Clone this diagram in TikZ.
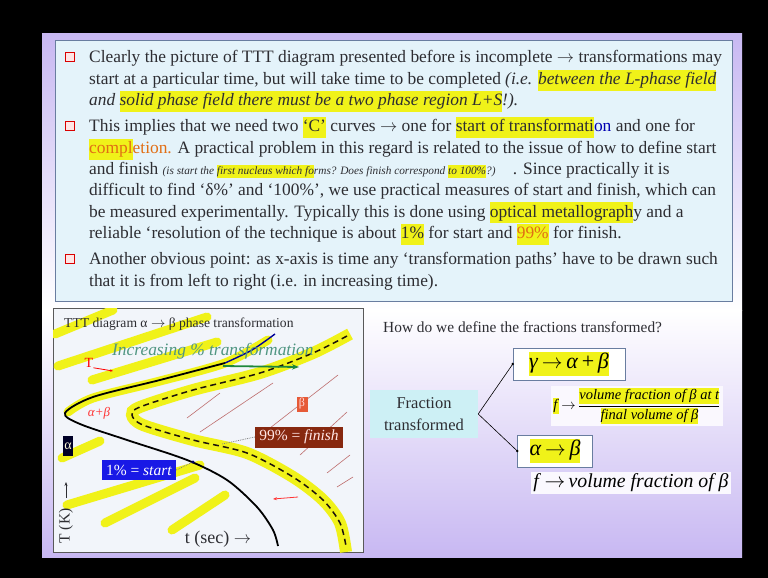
\documentclass[tikz,border=0pt]{standalone}
\usepackage{fontspec}
\setmainfont{Liberation Serif}
\usepackage{amsmath}
\usetikzlibrary{arrows.meta, positioning, calc}
\definecolor{lav}{RGB}{200,184,242}
\definecolor{panel}{RGB}{228,243,250}
\definecolor{panelline}{RGB}{105,125,160}
\definecolor{diagfill}{RGB}{242,245,250}
\definecolor{hlyel}{RGB}{240,242,25}
\definecolor{txt}{RGB}{45,45,50}
\definecolor{tealtxt}{RGB}{80,150,130}
\definecolor{brick}{RGB}{135,40,15}
\definecolor{blu}{RGB}{25,25,230}
\definecolor{hatch}{RGB}{190,110,110}
\definecolor{orng}{RGB}{225,110,20}
\definecolor{betafill}{RGB}{230,90,55}
\definecolor{fracbox}{RGB}{205,240,245}
\definecolor{grn}{RGB}{30,135,60}
\newcommand{\hlt}[1]{{\setlength{\fboxsep}{0pt}\colorbox{hlyel}{\strut #1}}}

\begin{document}
\begin{tikzpicture}[x=1pt, y=-1pt,
  bodyline/.style={anchor=base west, inner sep=0pt, text=txt, font=\fontsize{17.4}{21}\selectfont},
  bulletbox/.style={draw=red!85!black, fill=red!10, line width=1.4pt, minimum size=9.5pt, inner sep=0pt},
  hlstroke/.style={draw=hlyel, line width=9pt, line cap=round},
  hatchline/.style={draw=hatch, line width=0.6pt},
  tag/.style={inner sep=1pt, font=\fontsize{14}{16}\selectfont},
  eqbox/.style={draw=panelline, fill=white, inner sep=2pt, font=\fontsize{22}{24}\selectfont},
  formbox/.style={fill=white!90!lav, inner sep=2pt},
  conn/.style={draw=black, line width=0.6pt},
  dotline/.style={draw=gray, densely dotted, line width=0.8pt}
]
\useasboundingbox (0,0) rectangle (768,578);
\fill[black] (0,0) rectangle (768,578);
% slide background
\shade[top color=lav, bottom color=white] (42,34) rectangle (742,310);
\shade[top color=white, bottom color=lav] (42,310) rectangle (742,557);

% upper text panel
\draw[panelline, fill=panel, line width=0.8pt] (55,40) rectangle (732,301);
\node[bulletbox] (b1) at (70,57) {};
\node[bulletbox] (b2) at (70,126) {};
\node[bulletbox] (b3) at (70,259) {};
\node[bodyline] (l1) at (89,63) {Clearly the picture of TTT diagram presented before is incomplete $\rightarrow$ transformations may};
\node[bodyline] (l2) at (89,84.3) {start at a particular time, but will take time to be completed \textit{(i.e. \hlt{between the L-phase field}}};
\node[bodyline] (l3) at (89,105.6) {\textit{and \hlt{solid phase field there must be a two phase region L+S}!).}};
\node[bodyline] (l4) at (89,131.9) {This implies that we need two \hlt{‘C’} curves $\rightarrow$ one for \hlt{start of transformati}\textcolor{blue!70!black}{on} and one for};
\node[bodyline] (l5) at (89,153.2) {\textcolor{orng}{\hlt{compl}etion.} A practical problem in this regard is related to the issue of how to define start};
\node[bodyline] (l6) at (89,174.5) {and finish {\fontsize{11.3}{13}\selectfont\itshape (is start the \hlt{first nucleus which fo}rms? Does finish correspond \hlt{to 100\%}?)}\quad . Since practically it is};
\node[bodyline] (l7) at (89,195.8) {difficult to find ‘δ\%’ and ‘100\%’, we use practical measures of start and finish, which can};
\node[bodyline] (l8) at (89,217.1) {be measured experimentally. Typically this is done using \hlt{optical metallograph}y and a};
\node[bodyline] (l9) at (89,238.4) {reliable ‘resolution of the technique is about \hlt{1\%} for start and \hlt{\textcolor{orng}{99\%}} for finish.};
\node[bodyline] (l10) at (89,264.7) {Another obvious point: as x-axis is time any ‘transformation paths’ have to be drawn such};
\node[bodyline] (l11) at (89,286) {that it is from left to right (i.e. in increasing time).};

% TTT diagram
\draw[gray!70!black, fill=diagfill, line width=0.8pt] (53,308) rectangle (363,552);
\begin{scope}
  \clip (53,308) rectangle (363,552);
  \draw[hlstroke] (55,334) -- (113,310);
  \draw[hlstroke] (58,366) -- (207,317);
  \draw[hlstroke] (92,380) -- (217,342);
  \draw[hlstroke] (62,458) -- (100,441);
  \draw[hlstroke] (67,505) -- (200,465);
  \draw[hlstroke] (105,523) -- (195,478);
  \draw[hlstroke] (172,530) -- (225,495);
  \draw[hlstroke] plot[smooth] coordinates {(68,412) (93,398) (160,381) (225,363) (268,340)};
  \draw[hlstroke, line width=12pt, line cap=butt] plot[smooth] coordinates {(350,334) (313,353) (260,373) (193,390) (140,407) (132,415) (143,425) (193,440) (247,453) (293,477) (323,500) (340,523) (346,552)};
\end{scope}
% hatching in the beta field
\draw[hatchline] (187,418) -- (220,393);
\draw[hatchline] (200,432) -- (273,383);
\draw[hatchline] (270,428) -- (338,375);
\draw[hatchline] (300,455) -- (347,412);
\draw[hatchline] (327,473) -- (350,455);
\draw[hatchline] (337,487) -- (353,477);
% start and finish curves
\draw[black, line width=1.8pt] plot[smooth] coordinates {(225,363) (160,380) (93,397) (65,413) (80,424) (127,440) (187,460) (227,480) (257,507) (273,530) (278,546)};
\draw[blue!60!black, line width=1.4pt] plot[smooth] coordinates {(225,363) (252,350) (275,334)};
\draw[black!85!brown, line width=1.5pt, dash pattern=on 6pt off 4pt] plot[smooth] coordinates {(347,336) (313,353) (260,373) (193,390) (140,407) (132,415) (143,425) (193,440) (247,453) (293,477) (323,500) (340,523) (346,546)};

\node[anchor=west, inner sep=0pt, text=txt, font=\fontsize{13.6}{15}\selectfont] (title) at (64,324) {TTT diagram α $\rightarrow$ β phase transformation};
\node[anchor=west, inner sep=0pt, text=tealtxt, font=\fontsize{17.4}{19}\selectfont\itshape] (incr) at (112,351) {Increasing \% transformation};
\coordinate (ga) at (223,366);
\coordinate (gb) at (299,367);
\draw[grn, line width=1.8pt, -{Stealth[length=7pt]}] (ga) -- (gb);
\node[text=red, inner sep=0pt, font=\fontsize{14}{16}\selectfont] (te) at (89,363) {T};
\coordinate (tend) at (113,371);
\draw[red, line width=0.8pt, -{Stealth[length=3pt]}] (te.south east) -- (tend);
\node[text=red!80, inner sep=0pt, font=\fontsize{13}{15}\selectfont\itshape] (abl) at (99,413) {α+β};
\node[tag, fill=betafill, text=red!15, minimum width=11pt, minimum height=15pt, font=\fontsize{12}{14}\selectfont] (bet) at (302,404) {β};
\node[tag, fill=brick, text=white!90!red, minimum width=88pt, minimum height=21pt, font=\fontsize{15.5}{17}\selectfont] (fin) at (299,437) {99\% = \textit{finish}};
\node[tag, fill=blu, text=white, minimum width=74pt, minimum height=20pt, font=\fontsize{15.5}{17}\selectfont] (sta) at (139,470) {1\% = \textit{start}};
\node[tag, fill=black!85!blue, text=white!85!yellow, minimum width=10pt, minimum height=20pt] (alf) at (68,446) {α};
\coordinate (finpt) at (222,444);
\coordinate (stapt) at (193,462);
\draw[dotline] (fin.west) -- (finpt);
\draw[dotline] (sta.east) -- (stapt);
\fill[blue!40!black] (stapt) circle (1.6pt);
\coordinate (rm1) at (273,499);
\coordinate (rm2) at (298,497);
\draw[red!80, line width=0.8pt, -{Stealth[length=4pt]}] (rm2) -- (rm1);
\node[rotate=90, inner sep=0pt, text=txt, font=\fontsize{15.5}{17}\selectfont] (tk) at (66,526) {T (K)};
\coordinate (ya) at (66,498);
\coordinate (yb) at (66,482);
\draw[txt, line width=0.8pt, -{Stealth[length=4pt]}] (ya) -- (yb);
\node[inner sep=0pt, text=txt, font=\fontsize{18}{20}\selectfont] (tsec) at (218,539) {t (sec) $\rightarrow$};

% fractions transformed
\node[anchor=west, inner sep=0pt, text=txt, font=\fontsize{15.4}{17}\selectfont] (q) at (383,327) {How do we define the fractions transformed?};
\node[fill=fracbox, minimum width=108pt, minimum height=48pt, align=center, text=txt, font=\fontsize{16.5}{22}\selectfont] (frac) at (424,414) {Fraction\\transformed};
\node[eqbox, minimum width=112pt, minimum height=32pt] (gab) at (569,364) {\hlt{\textit{γ}\,$\rightarrow$\,\textit{α}\,+\,\textit{β}}};
\node[formbox, font=\fontsize{14.5}{16}\selectfont] (fdef) at (637,406) {\hlt{\textit{f}}\,$\rightarrow$\,$\dfrac{\text{\hlt{\textit{volume fraction of β at t}}}}{\text{\hlt{\textit{final volume of β}}}}$};
\node[eqbox, minimum width=75pt, minimum height=32pt] (ab) at (555,451) {\hlt{\textit{α}\,$\rightarrow$\,\textit{β}}};
\node[formbox, font=\fontsize{19.8}{22}\selectfont] (fvol) at (631,483) {\textit{f}\,$\rightarrow$\,\textit{volume fraction of β}};
\draw[conn] (frac.east) -- (gab.west);
\draw[conn] (frac.east) -- (ab.west);
\fill (gab.west) circle (1.4pt);
\fill (ab.west) circle (1.4pt);
\end{tikzpicture}
\end{document}
